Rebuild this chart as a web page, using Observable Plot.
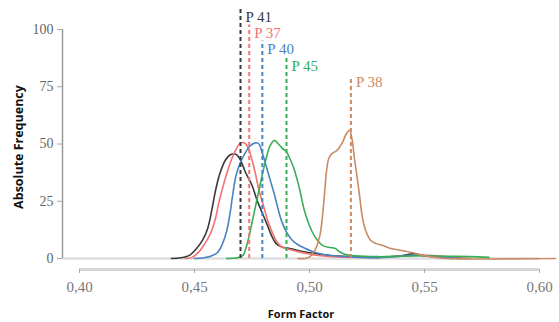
<!DOCTYPE html>
<html>
<head>
<meta charset="utf-8">
<script src="https://cdn.jsdelivr.net/npm/d3@7"></script>
<script src="https://cdn.jsdelivr.net/npm/@observablehq/plot@0.6"></script>
<style>
  html, body { margin: 0; padding: 0; background: #fff; }
</style>
</head>
<body>
<div id="chart"></div>
<script>
// Series: [form factor, absolute frequency]
const p41 = [[0.440,0],[0.444,0.3],[0.448,1.5],[0.451,4.5],[0.4535,8],[0.4557,13],[0.4575,21],[0.459,29],[0.461,37],[0.4635,43],[0.466,45.5],[0.468,45.5],[0.470,43],[0.472,38],[0.475,32],[0.477,26],[0.479,21],[0.4815,15],[0.4835,10],[0.4855,6.5],[0.488,5],[0.491,4.5],[0.495,3.5],[0.500,2.5],[0.505,1.8],[0.510,1.2],[0.520,0.8],[0.530,0.5],[0.540,1.2],[0.545,2],[0.550,1.2],[0.556,0.6],[0.562,0]];
const p37 = [[0.446,0],[0.449,0.5],[0.452,3],[0.4545,6.5],[0.457,11],[0.459,17],[0.4605,24],[0.462,30],[0.464,37],[0.466,43],[0.468,47.5],[0.470,50.5],[0.4715,50.5],[0.473,49],[0.475,43],[0.4765,37],[0.478,30],[0.480,23],[0.482,16],[0.484,11],[0.486,7],[0.488,5],[0.491,4],[0.495,3],[0.500,2],[0.505,1.2],[0.510,0.8],[0.520,0.5],[0.530,0.6],[0.540,1],[0.548,1.5],[0.555,1.2],[0.562,0.6],[0.570,0]];
const p40 = [[0.450,0],[0.454,0.3],[0.457,1],[0.460,2.6],[0.462,6],[0.464,12],[0.4655,20],[0.4665,27],[0.468,36],[0.470,42],[0.472,46],[0.474,49],[0.4765,50.5],[0.478,50],[0.4795,46],[0.481,41],[0.483,34],[0.485,27],[0.4865,21],[0.488,16],[0.490,11.5],[0.4925,8],[0.495,6],[0.498,4.5],[0.501,3.2],[0.505,2],[0.510,1.2],[0.520,0.6],[0.530,0.4],[0.540,1],[0.545,1.5],[0.552,1],[0.560,0.4],[0.566,0]];
const p45 = [[0.464,0],[0.468,0.2],[0.471,1.2],[0.4725,5],[0.474,11],[0.4752,16.6],[0.477,25],[0.4783,31],[0.480,39],[0.4815,45],[0.483,49.5],[0.4848,51.5],[0.4865,50],[0.4883,48],[0.490,46.5],[0.4913,44],[0.493,40],[0.4945,35],[0.496,29],[0.4975,22],[0.499,17],[0.501,12],[0.503,8.5],[0.506,5.5],[0.509,4.8],[0.511,4.5],[0.513,3],[0.515,2],[0.520,1.2],[0.530,0.8],[0.540,1],[0.550,1.2],[0.560,1],[0.570,0.8],[0.578,0.5]];
const p38 = [[0.495,0],[0.499,0.2],[0.501,1.5],[0.503,5],[0.5045,10],[0.5055,17],[0.5065,28],[0.5075,39],[0.5085,44],[0.510,46],[0.5117,47],[0.513,48.5],[0.5145,51],[0.516,54.5],[0.5174,56],[0.5185,52],[0.5195,44],[0.5205,37],[0.5217,28],[0.523,18],[0.5245,12],[0.5265,8],[0.529,6.5],[0.532,5.7],[0.535,4.5],[0.540,3.5],[0.545,2.5],[0.550,1.2],[0.555,0.5],[0.560,0],[0.607,0]];

const seriesNames = ["P 41", "P 37", "P 40", "P 45", "P 38"];
const seriesData = [p41, p37, p40, p45, p38];
const seriesColors = ["#3a3a3a", "#f47272", "#4784c4", "#38ad55", "#c98a64"];

// Dashed marker lines and labels
const peakX = [0.470, 0.4738, 0.4795, 0.490, 0.518];
const peakTop = [109, 102, 95, 87.5, 78.5];
const peakLabelY = [105.5, 98.5, 91.5, 84, 77];

const xTicks = [0.40, 0.45, 0.50, 0.55, 0.60];
const yTicks = [0, 25, 50, 75, 100];

const lineRows = seriesData.flatMap((s, i) => s.map(([x, y]) => ({ x, y, name: seriesNames[i] })));
const peaks = seriesNames.map((name, i) => ({ name, x: peakX[i], top: peakTop[i], ly: peakLabelY[i], color: seriesColors[i] }));

const xStart = 0.60 - 477 / 2300;
const serif = "Liberation Serif, DejaVu Serif, serif";

const chart = Plot.plot({
  width: 559,
  height: 322,
  marginLeft: 62,
  marginRight: 20,
  marginTop: 29,
  marginBottom: 64,
  style: { background: "#fff" },
  x: { domain: [xStart, 0.60] },
  y: { domain: [0, 100] },
  color: { domain: seriesNames, range: seriesColors },
  marks: [
    Plot.ruleY([0], { stroke: "#dedede", strokeWidth: 2.5 }),
    Plot.ruleX([xStart], { y1: 0, y2: 100, stroke: "#9a9a9a", strokeWidth: 1.5 }),
    Plot.axisY({ ticks: yTicks, tickSize: 5, tickPadding: 4, label: null, fontFamily: serif, fontSize: 14, color: "#666", stroke: "#aaa" }),
    Plot.ruleY([0], { x1: 0.40, x2: 0.60, dy: 11, stroke: "#d6d6d6", strokeWidth: 3 }),
    Plot.axisX({ ticks: xTicks, tickFormat: d => d.toFixed(2).replace(".", ","), dy: 11, tickSize: 4, tickPadding: 8, label: null, fontFamily: serif, fontSize: 15, color: "#777", stroke: "#aaa" }),
    Plot.line(lineRows, { x: "x", y: "y", z: "name", stroke: "name", strokeWidth: 1.6, curve: "catmull-rom" }),
    Plot.ruleX(peaks, { x: "x", y1: 0, y2: "top", stroke: "color", strokeWidth: 2, strokeDasharray: "4,3" }),
    Plot.text(peaks, { x: "x", y: "ly", text: "name", fill: "color", textAnchor: "start", dx: 5, fontFamily: serif, fontSize: 15 }),
    Plot.text(["Absolute Frequency"], { frameAnchor: "left", textAnchor: "middle", lineAnchor: "middle", rotate: -90, dx: -44, dy: 3, fontFamily: "Open Sans", fontWeight: "bold", fontSize: 12.5, fill: "#111" }),
    Plot.text(["Form Factor"], { frameAnchor: "bottom", textAnchor: "middle", lineAnchor: "middle", dy: 56, fontFamily: "Open Sans", fontWeight: "bold", fontSize: 11, fill: "#111" })
  ]
});
document.getElementById("chart").appendChild(chart);
</script>
</body>
</html>
